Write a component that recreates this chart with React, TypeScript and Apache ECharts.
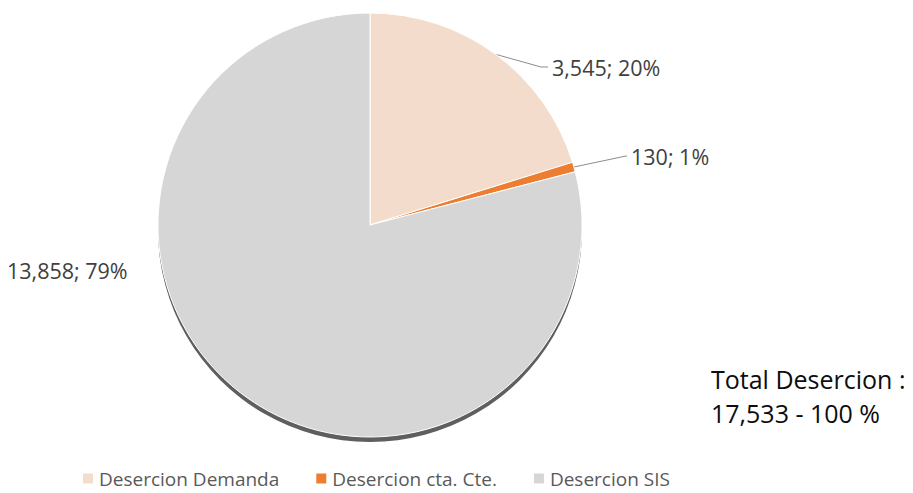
import React, { useEffect, useRef } from "react";
import * as echarts from "echarts";

const categories = ["Desercion Demanda", "Desercion cta. Cte.", "Desercion SIS"];
const values = [3545, 130, 13858];
const colors = ["#F3DCCB", "#ED7D31", "#D6D6D6"];

const fmt = (n: number) => n.toLocaleString("en-US");

export default function App() {
  const ref = useRef<HTMLDivElement>(null);
  useEffect(() => {
    if (!ref.current) return;
    const chart = echarts.init(ref.current, null, { renderer: "svg" });
    const total = values.reduce((a, b) => a + b, 0);
    const center = [370, 225];
    const radius = 212;
    const labelPos = [
      { x: 552, y: 67, bend: [541, 67] },
      { x: 631, y: 156, bend: [626, 156] },
      { x: 7, y: 270, bend: null },
    ];
    chart.setOption({
      animation: false,
      backgroundColor: "#ffffff",
      legend: {
        data: categories,
        left: 76,
        top: 464,
        icon: "rect",
        itemWidth: 12,
        itemHeight: 12,
        itemGap: 35,
        textStyle: { color: "#595959", fontSize: 19, fontFamily: "Open Sans" },
        selectedMode: false,
      },
      graphic: [
        {
          type: "text",
          left: 711,
          top: 366,
          style: { text: "Total Desercion :", fontSize: 25, fontFamily: "Open Sans", fill: "#0d0d0d" },
        },
        {
          type: "text",
          left: 711,
          top: 400,
          style: { text: `${fmt(total)} - 100 %`, fontSize: 25, fontFamily: "Open Sans", fill: "#0d0d0d" },
        },
      ],
      series: [
        {
          type: "pie",
          name: "shadow",
          silent: true,
          center: [center[0], center[1] + 5],
          radius: radius,
          label: { show: false },
          labelLine: { show: false },
          itemStyle: { color: "#5f5f5f" },
          data: [{ value: 1, name: "__shadow" }],
          z: 1,
        },
        {
          type: "pie",
          center: center,
          radius: radius,
          startAngle: 90,
          clockwise: true,
          z: 2,
          itemStyle: { borderColor: "#ffffff", borderWidth: 1 },
          label: {
            show: true,
            position: "outside",
            color: "#404040",
            fontSize: 21.5,
            fontFamily: "Open Sans",
            formatter: (p: any) => `${fmt(p.value)}; ${Math.round(p.percent)}%`,
          },
          labelLine: { show: true, lineStyle: { color: "#8c8c8c", width: 1 } },
          labelLayout: (params: any) => {
            const lp = labelPos[params.dataIndex];
            const res: any = { x: lp.x, y: lp.y, align: "left", verticalAlign: "middle" };
            if (lp.bend && params.labelLinePoints) {
              const p0 = params.labelLinePoints[0];
              res.labelLinePoints = [p0, lp.bend, [lp.x - 4, lp.y]];
            }
            return res;
          },
          data: categories.map((c, i) => ({
            name: c,
            value: values[i],
            itemStyle: { color: colors[i] },
            labelLine: { show: i !== 2 },
          })),
        },
      ],
    });
    return () => chart.dispose();
  }, []);
  return (
    <div
      ref={ref}
      style={{ position: "fixed", left: 0, top: 0, width: 913, height: 493 }}
    />
  );
}
